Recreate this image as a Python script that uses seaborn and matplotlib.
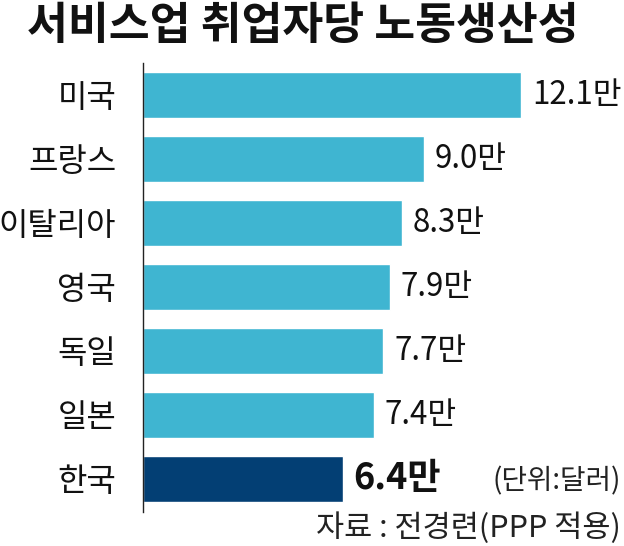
import matplotlib
matplotlib.use("Agg")
import matplotlib.pyplot as plt
import seaborn as sns
import pandas as pd

# 서비스업 취업자당 노동생산성 (단위: 만 달러)
countries = ["미국", "프랑스", "이탈리아", "영국", "독일", "일본", "한국"]
values = [12.1, 9.0, 8.3, 7.9, 7.7, 7.4, 6.4]
value_labels = ["12.1만", "9.0만", "8.3만", "7.9만", "7.7만", "7.4만", "6.4만"]
bar_colors = ["#3fb5d1"] * 6 + ["#033f74"]

sns.set_theme(style="white")
plt.rcParams["font.family"] = ["Noto Sans CJK KR", "DejaVu Sans"]

df = pd.DataFrame({"country": countries, "value": values})

fig = plt.figure(figsize=(6.24, 5.46), dpi=100)
ax = fig.add_axes([142.5 / 624, 1 - 512 / 546, 1 - 142.5 / 624, (512 - 63) / 546])

sns.barplot(data=df, x="value", y="country", hue="country",
            palette=bar_colors, width=0.72, legend=False, ax=ax,
            saturation=1)

ax.set_xlim(0, 15.4)
ax.set_ylim(6.52, -0.5)
ax.set_xlabel("")
ax.set_ylabel("")
ax.set_xticks([])
for side in ["top", "right", "bottom"]:
    ax.spines[side].set_visible(False)
ax.spines["left"].set_color("#222222")
ax.spines["left"].set_linewidth(1.0)
ax.tick_params(axis="y", length=0, pad=19, labelsize=23, labelcolor="#111111")

for i, (v, lab) in enumerate(zip(values, value_labels)):
    bold = countries[i] == "한국"
    ax.text(v + 0.35, i, lab, va="center", ha="left",
            fontsize=26 if bold else 22.5, color="#111111",
            fontweight="bold" if bold else "normal")

fig.text(0.485, 0.995, "서비스업 취업자당 노동생산성", ha="center", va="top",
         fontsize=32, fontweight="bold", color="#111111")
fig.text(0.995, 1 - 481 / 546, "(단위:달러)", ha="right", va="center",
         fontsize=20, color="#222222")
fig.text(0.995, 1 - 528 / 546, "자료 : 전경련(PPP 적용)", ha="right", va="center",
         fontsize=22, color="#222222")

fig.savefig("out.png", dpi=100)
